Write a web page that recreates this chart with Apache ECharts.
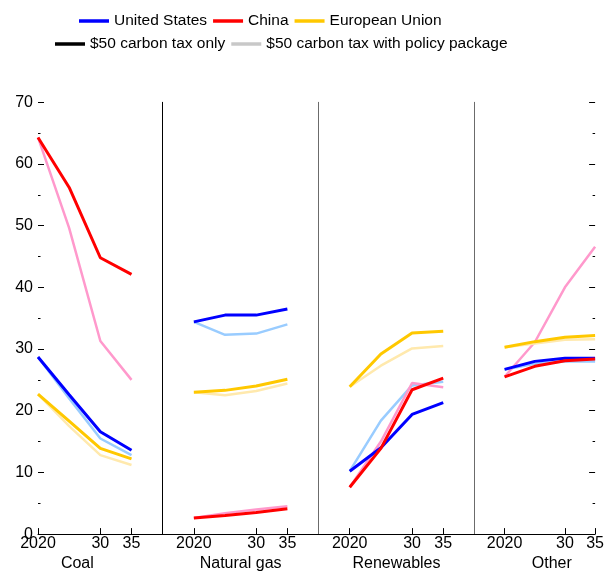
<!DOCTYPE html>
<html>
<head>
<meta charset="utf-8">
<script src="https://cdn.jsdelivr.net/npm/echarts@6/dist/echarts.min.js"></script>
<style>
  html, body { margin: 0; padding: 0; background: #fff; }
  #chart { width: 607px; height: 577px; }
</style>
</head>
<body>
<div id="chart"></div>
<script>
// Years shown in each sector panel
const years = [2020, 2025, 2030, 2035];
const sectors = ['Coal', 'Natural gas', 'Renewables', 'Other'];
const countries = ['United States', 'China', 'European Union'];
const yTicks = [0, 10, 20, 30, 40, 50, 60, 70];

// Share of energy mix (percent); one row per sector: Coal, Natural gas, Renewables, Other
// $50 carbon tax only
const usTax = [
  [28.7, 22.6, 16.6, 13.6],
  [34.4, 35.5, 35.5, 36.5],
  [10.2, 14.0, 19.4, 21.3],
  [26.7, 28.0, 28.5, 28.5]
];
const chinaTax = [
  [64.3, 56.2, 44.8, 42.1],
  [2.6, 3.0, 3.5, 4.1],
  [7.6, 13.9, 23.4, 25.3],
  [25.5, 27.2, 28.1, 28.4]
];
const euTax = [
  [22.7, 18.3, 13.9, 12.2],
  [23.0, 23.3, 24.0, 25.1],
  [23.9, 29.2, 32.6, 32.9],
  [30.3, 31.2, 31.9, 32.2]
];
// $50 carbon tax with policy package
const usPkg = [
  [28.7, 22.0, 15.5, 12.8],
  [34.4, 32.3, 32.5, 34.0],
  [10.2, 18.4, 24.1, 24.7],
  [26.7, 27.6, 28.0, 28.0]
];
const chinaPkg = [
  [64.3, 49.6, 31.3, 25.0],
  [2.6, 3.4, 4.0, 4.5],
  [7.6, 15.0, 24.5, 23.8],
  [25.5, 31.1, 40.0, 46.6]
];
const euPkg = [
  [22.7, 17.5, 12.8, 11.2],
  [23.0, 22.5, 23.2, 24.4],
  [23.9, 27.3, 30.1, 30.5],
  [30.3, 30.9, 31.5, 31.6]
];

const taxOnly = [usTax, chinaTax, euTax];
const withPkg = [usPkg, chinaPkg, euPkg];
const darkColors = ['#0000ff', '#ff0000', '#ffc800'];
const lightColors = ['#99ccff', '#ff99cc', '#ffe9ad'];
const scenarioNames = ['$50 carbon tax only', '$50 carbon tax with policy package'];
const scenarioColors = ['#000000', '#c8c8c8'];

const FONT = "'Liberation Sans', Arial, Helvetica, sans-serif";
const FS = 16;
const LEGEND_FS = 15.5;

// Panel x-ranges (years); panels share one pixel scale
const panelRange = [[2020, 2040], [2015, 2040], [2015, 2040], [2015, 2035]];
const plotLeft = 38, plotRight = 599.1, plotTop = 102.3, plotBottom = 536;
const totalYears = panelRange.reduce((s, r) => s + r[1] - r[0], 0);
const pxPerYear = (plotRight - plotLeft) / totalYears;

const grids = [], xAxes = [], yAxes = [], series = [];
let cursor = plotLeft;
const tickYears = [2020, 2030, 2035];
const nameShift = [-23, 0, 0, 17];
const sepColors = [null, '#000000', '#6b6b6b', '#6b6b6b'];

panelRange.forEach((r, i) => {
  const w = (r[1] - r[0]) * pxPerYear;
  grids.push({ left: cursor, width: w, top: plotTop, height: plotBottom - plotTop });
  cursor += w;
  xAxes.push({
    type: 'value', gridIndex: i, min: r[0], max: r[1],
    splitLine: { show: false },
    axisLine: { show: true, lineStyle: { color: '#000', width: 1 } },
    axisTick: { show: true, inside: true, length: 6, customValues: tickYears, lineStyle: { color: '#000' } },
    axisLabel: {
      customValues: tickYears, margin: 1, color: '#000', fontFamily: FONT, fontSize: FS,
      formatter: v => v === 2020 ? '2020' : String(v).slice(2)
    },
    name: sectors[i], nameLocation: 'middle', nameGap: 17,
    nameTextStyle: {
      color: '#000', fontFamily: FONT, fontSize: FS,
      padding: nameShift[i] < 0 ? [0, -2 * nameShift[i], 0, 0] : [0, 0, 0, 2 * nameShift[i]]
    }
  });
  const y = {
    type: 'value', gridIndex: i, min: 0, max: 70, interval: 10,
    splitLine: { show: false }
  };
  if (i === 0) {
    Object.assign(y, {
      axisLine: { show: false },
      axisTick: { show: true, inside: true, length: 6, lineStyle: { color: '#000' } },
      minorTick: { show: true, splitNumber: 2, length: 2.5, lineStyle: { color: '#000' } },
      axisLabel: {
        margin: 5, color: '#000', fontFamily: FONT, fontSize: FS,
        customValues: yTicks
      }
    });
  } else {
    Object.assign(y, {
      axisLine: { show: true, lineStyle: { color: sepColors[i], width: 1 } },
      axisTick: { show: false },
      axisLabel: { show: false }
    });
  }
  yAxes.push(y);
});

// Right-hand tick marks on the last panel
yAxes.push({
  type: 'value', gridIndex: 3, position: 'right', min: 0, max: 70, interval: 10,
  splitLine: { show: false },
  axisLine: { show: false },
  axisTick: { show: true, inside: true, length: 6, lineStyle: { color: '#000' } },
  minorTick: { show: true, splitNumber: 2, length: 2.5, lineStyle: { color: '#000' } },
  axisLabel: { show: false }
});

sectors.forEach((s, i) => {
  countries.forEach((c, k) => {
    series.push({
      name: c + ' (policy package)', type: 'line', xAxisIndex: i, yAxisIndex: i,
      data: years.map((yr, j) => [yr, withPkg[k][i][j]]),
      symbol: 'none', color: lightColors[k],
      lineStyle: { width: 2.5, color: lightColors[k] },
      emphasis: { disabled: true }, z: 2
    });
  });
  countries.forEach((c, k) => {
    series.push({
      name: c, type: 'line', xAxisIndex: i, yAxisIndex: i,
      data: years.map((yr, j) => [yr, taxOnly[k][i][j]]),
      symbol: 'none', color: darkColors[k],
      lineStyle: { width: 3, color: darkColors[k] },
      emphasis: { disabled: true }, z: 3
    });
  });
});
// Scenario key entries
scenarioNames.forEach((n, k) => {
  series.push({ name: n, type: 'line', xAxisIndex: 0, yAxisIndex: 0, data: [], color: scenarioColors[k], symbol: 'none' });
});

const legendBase = {
  icon: 'rect', itemWidth: 30, itemHeight: 3.5, itemGap: 6, selectedMode: false,
  textStyle: { color: '#000', fontFamily: FONT, fontSize: LEGEND_FS }
};

const chart = echarts.init(document.getElementById('chart'), null, { renderer: 'canvas' });
chart.setOption({
  animation: false,
  backgroundColor: '#fff',
  legend: [
    Object.assign({}, legendBase, { data: countries, left: 74, top: 8 }),
    Object.assign({}, legendBase, { data: scenarioNames, left: 50, top: 31 })
  ],
  grid: grids,
  xAxis: xAxes,
  yAxis: yAxes,
  series: series
});
</script>
</body>
</html>
